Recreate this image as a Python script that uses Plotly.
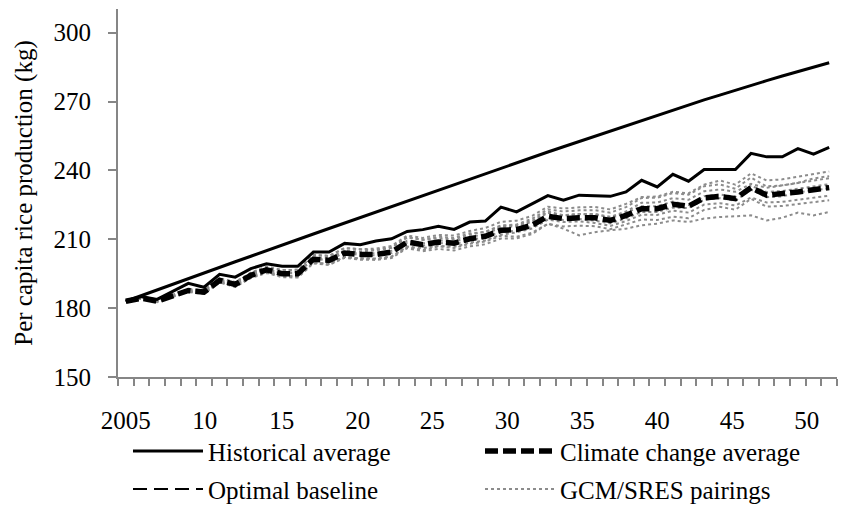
import plotly.graph_objects as go

# ---- data ----
years = list(range(2005, 2051))

historical = [183.0, 185.5, 188.0, 190.4, 192.9, 195.3, 197.8, 200.2, 202.6, 205.1,
              207.5, 209.9, 212.3, 214.7, 217.1, 219.5, 221.9, 224.3, 226.7, 229.0,
              231.4, 233.8, 236.2, 238.5, 240.9, 243.3, 245.6, 248.0, 250.3, 252.6,
              254.9, 257.2, 259.5, 261.8, 264.0, 266.3, 268.5, 270.7, 272.8, 275.0,
              277.1, 279.1, 281.1, 283.1, 285.0, 286.9]

optimal = [183.0, 185.0, 183.8, 187.2, 190.8, 189.1, 194.7, 193.5, 197.2, 199.3,
           198.2, 198.2, 204.4, 204.4, 208.2, 207.6, 209.2, 210.2, 213.4, 214.2,
           215.6, 214.3, 217.5, 217.9, 224.0, 221.9, 225.5, 229.0, 227.0, 229.2,
           228.9, 228.7, 230.6, 235.7, 232.8, 238.3, 235.3, 240.4, 240.4, 240.4,
           247.4, 245.9, 245.9, 249.5, 247.1, 250.0]

climate_avg = [183.0, 184.3, 183.0, 185.4, 187.7, 187.0, 192.1, 190.3, 194.3, 196.7,
               195.0, 195.0, 201.3, 200.8, 204.0, 203.4, 203.4, 204.4, 208.8, 207.6,
               208.8, 208.3, 210.2, 211.3, 213.9, 214.2, 216.1, 220.0, 219.0, 219.4,
               219.4, 218.2, 220.4, 223.3, 223.3, 225.2, 224.4, 228.0, 228.7, 227.7,
               232.5, 229.2, 229.6, 230.6, 231.6, 232.5]

gcm_a = [183.0, 184.5, 183.3, 185.9, 188.3, 187.8, 193.0, 191.4, 195.5, 198.1,
         196.6, 196.7, 203.2, 202.8, 206.2, 205.7, 205.9, 207.1, 211.6, 210.6,
         211.9, 211.6, 213.6, 214.9, 217.6, 218.1, 220.2, 224.2, 223.4, 223.9,
         224.1, 223.0, 225.4, 228.4, 228.6, 230.7, 230.0, 233.8, 235.6, 233.8,
         238.7, 235.6, 236.1, 237.3, 238.5, 239.5]
gcm_b = [183.0, 184.4, 183.2, 185.7, 188.1, 187.6, 192.8, 191.1, 195.2, 197.7,
         196.6, 196.7, 203.1, 202.7, 206.1, 205.6, 205.2, 206.3, 210.8, 209.7,
         210.4, 210.0, 212.0, 213.3, 216.0, 216.4, 219.0, 223.0, 222.1, 222.6,
         222.7, 221.6, 224.0, 228.0, 228.1, 230.1, 229.4, 233.1, 233.9, 232.0,
         236.9, 233.0, 233.5, 234.6, 236.5, 237.5]
gcm_c = [183.0, 184.4, 183.1, 185.6, 187.9, 186.9, 192.1, 190.3, 194.4, 196.9,
         195.3, 195.9, 202.2, 201.8, 205.1, 204.6, 205.3, 206.4, 210.9, 209.8,
         211.1, 210.6, 212.6, 213.1, 215.8, 216.1, 218.1, 222.1, 220.4, 220.9,
         220.9, 219.8, 222.1, 225.9, 226.0, 227.9, 227.2, 230.9, 231.7, 230.7,
         234.1, 232.4, 233.5, 234.5, 235.6, 236.6]
gcm_d = [183.0, 184.2, 183.0, 185.5, 187.8, 187.2, 192.3, 190.5, 194.6, 197.0,
         195.3, 195.4, 201.7, 201.2, 204.5, 203.9, 203.9, 205.0, 209.4, 208.2,
         209.5, 209.0, 211.0, 212.1, 215.3, 215.6, 217.6, 221.5, 220.5, 221.0,
         221.0, 219.2, 221.5, 224.4, 224.4, 226.4, 224.9, 228.7, 229.5, 228.5,
         233.3, 230.6, 231.0, 232.0, 233.1, 234.0]
gcm_e = [183.0, 184.3, 182.9, 185.3, 187.6, 186.9, 192.0, 190.1, 194.1, 196.5,
         195.3, 195.3, 201.5, 200.8, 204.2, 203.1, 203.0, 204.0, 208.4, 207.2,
         208.4, 207.8, 209.7, 210.8, 213.4, 213.6, 215.5, 219.4, 218.4, 218.8,
         218.1, 216.9, 219.1, 221.9, 221.9, 223.8, 223.6, 227.2, 227.9, 226.8,
         231.6, 228.3, 228.7, 230.4, 231.4, 232.0]
gcm_f = [183.0, 184.2, 182.8, 185.2, 187.4, 186.6, 191.6, 189.8, 193.7, 196.0,
         194.2, 194.1, 199.8, 199.2, 202.3, 201.6, 201.6, 202.5, 206.8, 206.1,
         207.2, 206.7, 208.5, 209.5, 212.0, 213.0, 214.7, 218.6, 217.5, 217.8,
         217.1, 215.8, 217.9, 220.7, 220.6, 222.5, 221.6, 225.1, 225.7, 224.7,
         228.2, 226.0, 226.3, 227.2, 228.2, 229.0]
gcm_g = [183.0, 184.2, 182.8, 185.0, 187.2, 186.4, 191.4, 189.4, 193.3, 195.6,
         193.8, 193.7, 199.8, 199.2, 202.3, 201.6, 201.4, 202.3, 206.6, 205.3,
         206.9, 206.2, 208.0, 209.0, 211.5, 211.1, 212.9, 216.7, 215.6, 215.9,
         215.7, 214.4, 216.5, 218.6, 218.4, 219.8, 219.2, 222.8, 224.1, 222.9,
         227.6, 224.2, 224.5, 225.4, 226.2, 227.0]
gcm_h = [183.0, 184.1, 182.6, 184.8, 187.1, 186.2, 191.2, 189.2, 193.1, 195.3,
         193.5, 193.3, 199.5, 198.8, 201.9, 201.1, 201.0, 201.8, 206.1, 204.8,
         205.8, 205.1, 206.9, 207.8, 210.3, 210.4, 212.3, 216.8, 214.6, 211.7,
         213.1, 213.9, 214.6, 216.1, 216.8, 218.2, 217.5, 219.0, 219.7, 220.0,
         220.4, 218.2, 219.4, 221.6, 220.4, 221.9]
gcm_runs = [gcm_a, gcm_b, gcm_c, gcm_d, gcm_e, gcm_f, gcm_g, gcm_h]

x_ticktext = ["2005", "10", "15", "20", "25", "30", "35", "40", "45", "50"]
y_ticks = [150, 180, 210, 240, 270, 300]

# where the labels sit in the original (they drift a little from the categories)
x_tickpos = [2005.0, 2010.05, 2014.97, 2019.84, 2024.6, 2029.4, 2034.2, 2039.0, 2043.8, 2048.56]

FONT = "Liberation Serif, Times New Roman, serif"
FS = 25
AXIS_GREY = "#868686"

fig = go.Figure()

# GCM/SRES pairings, dotted grey underneath
for i, run in enumerate(gcm_runs):
    fig.add_trace(go.Scatter(
        x=years, y=run, mode="lines",
        name="GCM/SRES pairings",
        line=dict(color="#8c8c8c", width=2, dash="dot"),
        showlegend=(i == 0), legend="legend2", legendrank=2,
    ))

fig.add_trace(go.Scatter(
    x=years, y=climate_avg, mode="lines",
    name="Climate change average",
    line=dict(color="black", width=5.5, dash="13px,5px"),
    legend="legend", legendrank=2,
))

# optimal baseline drawn solid in the plot, dashed in the key
fig.add_trace(go.Scatter(
    x=years, y=optimal, mode="lines",
    name="Optimal baseline",
    line=dict(color="black", width=3),
    showlegend=False,
))
fig.add_trace(go.Scatter(
    x=[None], y=[None], mode="lines",
    name="Optimal baseline",
    line=dict(color="black", width=2, dash="14px,7px"),
    legend="legend2", legendrank=1,
))

fig.add_trace(go.Scatter(
    x=years, y=historical, mode="lines",
    name="Historical average",
    line=dict(color="black", width=3),
    legend="legend", legendrank=1,
))

legend_common = dict(
    orientation="h",
    xanchor="left", yanchor="middle",
    x=0.0139,
    font=dict(family=FONT, size=FS, color="black"),
    itemwidth=70,
    entrywidth=267,
    bgcolor="rgba(0,0,0,0)",
)

fig.update_layout(
    width=845, height=510,
    margin=dict(l=118, r=8, t=9, b=133, autoexpand=False),
    paper_bgcolor="white",
    plot_bgcolor="white",
    font=dict(family=FONT, size=FS, color="black"),
    legend=dict(legend_common, y=-0.202),
    legend2=dict(legend_common, y=-0.305),
    xaxis=dict(
        range=[2004.5, 2050.5], automargin=False,
        showgrid=False, zeroline=False,
        showline=True, linecolor=AXIS_GREY, linewidth=2,
        tickmode="array", tickvals=x_tickpos, ticktext=x_ticktext,
        ticks="", ticklabelstandoff=20,
        tickfont=dict(family=FONT, size=FS, color="black"),
        minor=dict(tick0=2004.5, dtick=1, ticks="outside", ticklen=7,
                   tickcolor=AXIS_GREY, tickwidth=2, showgrid=False),
    ),
    yaxis=dict(
        range=[150, 310.3], automargin=False,
        showgrid=False, zeroline=False,
        showline=True, linecolor=AXIS_GREY, linewidth=2,
        tickmode="array", tickvals=y_ticks,
        ticks="outside", ticklen=8, tickcolor=AXIS_GREY, tickwidth=2,
        ticklabelstandoff=12,
        tickfont=dict(family=FONT, size=FS, color="black"),
        title=dict(text="Per capita rice production (kg)",
                   font=dict(family=FONT, size=FS, color="black"),
                   standoff=14),
    ),
    showlegend=True,
)

# drop the page's default body margin so the figure sits at the window corner
fig.write_html("out.html", config={"displayModeBar": False},
               post_script="document.body.style.margin='0';")
